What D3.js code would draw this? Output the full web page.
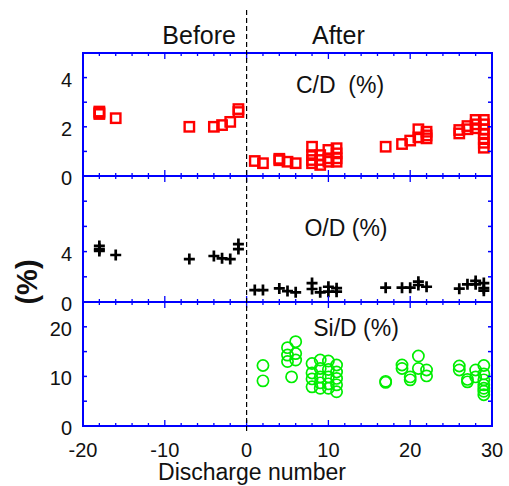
<!DOCTYPE html>
<html><head><meta charset="utf-8">
<script src="https://cdn.jsdelivr.net/npm/d3@7"></script>
<style>body{margin:0;background:#fff}svg{display:block;font-family:Arial,"Liberation Sans",sans-serif}text{white-space:pre}</style>
</head><body><svg id="c" width="509" height="486"></svg>
<script>
// C/D (%) points [discharge, value]
const cdData = [[-18,2.62],[-18,2.52],[-18,2.57],[-16,2.35],[-7,2.0],[-4,2.0],[-3,2.07],[-2,2.2],[-1,2.72],[-1,2.6],
 [1,0.61],[2,0.52],[4,0.7],[4,0.64],[5,0.58],[6,0.52],[8,1.19],[8,0.85],[8,0.65],[8,0.52],[9,0.85],[9,0.65],[9,0.45],
 [10,1.06],[10,0.72],[10,0.58],[11,1.13],[11,0.92],[11,0.72],[11,0.58],[17,1.19],[19,1.3],[20,1.44],[21,1.9],[21,1.57],
 [22,1.8],[22,1.65],[22,1.53],[26,1.87],[26,1.73],[27,2.03],[27,1.9],[28,2.28],[28,2.1],[28,1.94],
 [29,2.28],[29,2.1],[29,1.9],[29,1.7],[29,1.5],[29,1.35],[29,1.15]];
// O/D (%) points
const odData = [[-18,4.45],[-18,4.2],[-18,4.05],[-16,3.73],[-7,3.41],[-4,3.65],[-3,3.47],[-2,3.41],[-1,4.6],[-1,4.2],
 [1,0.95],[2,0.95],[4,1.08],[5,0.87],[6,0.77],[8,1.5],[8,1.03],[9,0.77],[10,1.21],[10,0.82],[11,1.1],[11,0.82],
 [17,1.14],[19,1.14],[20,1.14],[21,1.61],[21,1.35],[22,1.21],[26,1.06],[27,1.4],[28,1.67],[28,1.4],[29,1.5],[29,1.1],[29,0.9]];
// Si/D (%) points
const siData = [[2,12.2],[2,9.1],[5,15.8],[5,14.3],[5,13.0],[6,17.0],[6,14.6],[6,13.3],[5.5,9.9],
 [8,12.6],[8,10.7],[8,9.5],[8,7.9],[9,13.3],[9,11.6],[9,9.9],[9,8.7],[9,7.6],[10,13.1],[10,11.4],[10,9.9],[10,8.5],[10,7.6],
 [11,12.3],[11,10.9],[11,9.6],[11,8.3],[11,6.9],[17,9.0],[17,8.8],[19,12.3],[19,11.6],[20,9.3],[20,9.9],[21,14.1],[21,11.6],
 [22,11.3],[22,10.1],[26,12.1],[26,11.3],[27,9.4],[27,8.9],[28,11.3],[28,9.9],
 [29,12.2],[29,10.5],[29,9.3],[29,8.3],[29,7.6],[29,7.0],[29,6.3]];
const xTickLabels = [-20,-10,0,10,20,30];
const cdTickLabels = [0,2,4];
const odTickLabels = [0,4];
const siTickLabels = [0,10,20];
const panelTitles = ["C/D  (%)","O/D (%)","Si/D (%)"];

const svg = d3.select("#c");
const L = 83, R = 492;
const x = d3.scaleLinear().domain([-20,30]).range([L,R]);
const panels = [
  {y0:53,y1:176,dom:[0,5],step:1,labels:cdTickLabels,data:cdData,kind:"sq",title:panelTitles[0],tx:340,ty:93},
  {y0:176,y1:302,dom:[0,10],step:2,labels:odTickLabels,data:odData,kind:"plus",title:panelTitles[1],tx:346,ty:236},
  {y0:302,y1:426,dom:[0,25],step:5,labels:siTickLabels,data:siData,kind:"circ",title:panelTitles[2],tx:356,ty:336}
];
const blue = "#0000ff";

panels.forEach((p,i) => {
  const y = d3.scaleLinear().domain(p.dom).range([p.y1,p.y0]);
  const g = svg.append("g");
  const m = g.append("g");
  if (p.kind === "sq") {
    m.selectAll("rect").data(p.data).join("rect")
      .attr("x", d => x(d[0]) - 4.7).attr("y", d => y(d[1]) - 4.7)
      .attr("width", 9.4).attr("height", 9.4)
      .attr("fill", "none").attr("stroke", "#ff0000").attr("stroke-width", 2.4);
  } else if (p.kind === "plus") {
    m.selectAll("path").data(p.data).join("path")
      .attr("d", d => `M${x(d[0])-5.5},${y(d[1])}h11M${x(d[0])},${y(d[1])-5.5}v11`)
      .attr("stroke", "#000").attr("stroke-width", 2.7).attr("fill","none");
  } else {
    m.selectAll("circle").data(p.data).join("circle")
      .attr("cx", d => x(d[0])).attr("cy", d => y(d[1])).attr("r", 5.6)
      .attr("fill", "none").attr("stroke", "#00ee00").attr("stroke-width", 1.7);
  }
  const yt = d3.range(p.dom[0], p.dom[1] + 1e-9, p.step);
  g.append("g").selectAll("line").data(yt).join("line")
    .attr("x1", L).attr("x2", L + 4).attr("y1", d => y(d)).attr("y2", d => y(d))
    .attr("stroke", blue).attr("stroke-width", 1.5);
  g.append("g").selectAll("line").data(yt).join("line")
    .attr("x1", R).attr("x2", R - 4).attr("y1", d => y(d)).attr("y2", d => y(d))
    .attr("stroke", blue).attr("stroke-width", 1.5);
  const xt = d3.range(-20, 30.001, 2);
  [p.y0, p.y1].forEach((yy, k) => {
    const dir = k === 0 ? 1 : -1;
    g.append("g").selectAll("line").data(xt).join("line")
      .attr("x1", d => x(d)).attr("x2", d => x(d))
      .attr("y1", yy).attr("y2", d => yy + dir * (d % 10 === 0 ? 6 : 3))
      .attr("stroke", blue).attr("stroke-width", 1.3);
  });
  g.append("rect").attr("x", L).attr("y", p.y0).attr("width", R - L).attr("height", p.y1 - p.y0)
    .attr("fill", "none").attr("stroke", blue).attr("stroke-width", 2);
  g.append("g").selectAll("text").data(p.labels).join("text")
    .attr("x", 72).attr("y", d => y(d) + 9).attr("text-anchor", "end")
    .attr("font-size", 20).attr("fill", "#111").text(d => d);
  g.append("text").attr("x", p.tx).attr("y", p.ty).attr("text-anchor", "middle")
    .attr("xml:space", "preserve")
    .attr("font-size", 23).attr("fill", "#111").text(p.title);
});

svg.append("line").attr("x1", x(0)).attr("x2", x(0)).attr("y1", 10).attr("y2", 431)
  .attr("stroke", "#000").attr("stroke-width", 1.2).attr("stroke-dasharray", "5,3");

svg.append("g").selectAll("text").data(xTickLabels).join("text")
  .attr("x", d => x(d)).attr("y", 457).attr("text-anchor", "middle")
  .attr("font-size", 20).attr("fill", "#111").text(d => d);
svg.append("text").attr("x", 252).attr("y", 480).attr("text-anchor", "middle")
  .attr("font-size", 23).attr("fill", "#111").text("Discharge number");

svg.append("text").attr("x", 236).attr("y", 44).attr("text-anchor", "end")
  .attr("font-size", 25).attr("fill", "#111").text("Before");
svg.append("text").attr("x", 312).attr("y", 44).attr("text-anchor", "start")
  .attr("font-size", 25).attr("fill", "#111").text("After");

svg.append("text").attr("transform", "translate(37,282) rotate(-90)")
  .attr("text-anchor", "middle").attr("font-size", 29).attr("font-weight", "bold")
  .attr("fill", "#111").text("(%)");
</script>
</body></html>
